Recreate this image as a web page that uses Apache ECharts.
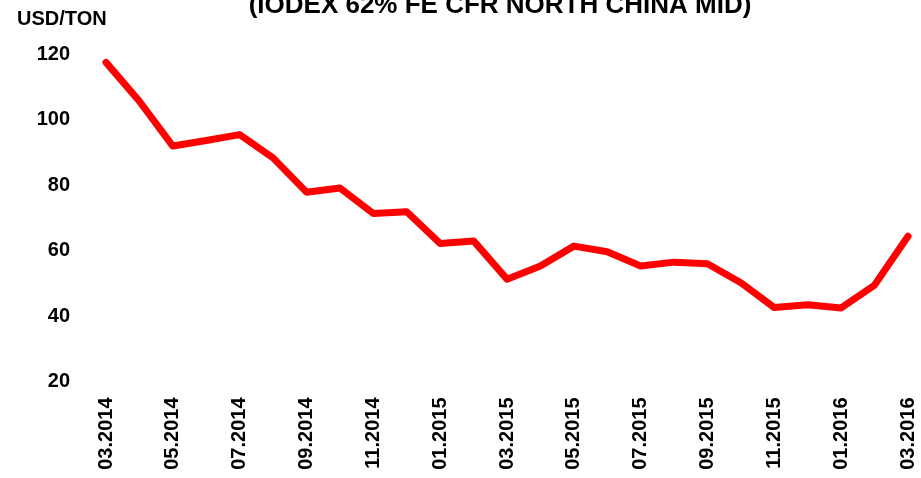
<!DOCTYPE html>
<html>
<head>
<meta charset="utf-8">
<script src="https://cdn.jsdelivr.net/npm/echarts@6/dist/echarts.min.js"></script>
<style>
html,body{margin:0;padding:0;background:#fff;}
#chart{width:921px;height:478px;}
</style>
</head>
<body>
<div id="chart"></div>
<script>
const categories = ["03.2014","04.2014","05.2014","06.2014","07.2014","08.2014","09.2014","10.2014","11.2014","12.2014",
  "01.2015","02.2015","03.2015","04.2015","05.2015","06.2015","07.2015","08.2015","09.2015","10.2015",
  "11.2015","12.2015","01.2016","02.2016","03.2016"];
const prices = [117.6,105.7,92.0,93.7,95.5,88.4,77.9,79.2,71.4,71.9,
  62.2,63.0,51.3,55.3,61.4,59.7,55.3,56.5,56.0,50.2,
  42.6,43.5,42.5,49.5,64.4];
const titleText = "(IODEX 62% FE CFR NORTH CHINA MID)";
const unitText = "USD/TON";

const FONT = "'Liberation Sans', Arial, sans-serif";
const chart = echarts.init(document.getElementById('chart'), null, {renderer:'canvas'});
chart.setOption({
  backgroundColor: '#fff',
  animation: false,
  title: [
    {text: titleText, left: 500, textAlign: 'center', top: -7, padding: 0,
     textStyle: {fontFamily: FONT, fontWeight: 'bold', fontSize: 26, color: '#000'}},
    {text: unitText, left: 17, top: 9, padding: 0,
     textStyle: {fontFamily: FONT, fontWeight: 'bold', fontSize: 20, color: '#000'}}
  ],
  grid: {left: 106, right: 13, top: 54.5, bottom: 96.5, containLabel: false},
  xAxis: {
    type: 'category',
    data: categories,
    boundaryGap: false,
    axisLine: {show: false},
    axisTick: {show: false},
    splitLine: {show: false},
    axisLabel: {rotate: 90, interval: 1, margin: 16, fontFamily: FONT, fontWeight: 'bold', fontSize: 20, color: '#000'}
  },
  yAxis: {
    type: 'value',
    min: 20, max: 120, interval: 20,
    axisLine: {show: false},
    axisTick: {show: false},
    splitLine: {show: false},
    axisLabel: {margin: 36, fontFamily: FONT, fontWeight: 'bold', fontSize: 20, color: '#000'}
  },
  series: [{
    type: 'line',
    data: prices,
    symbol: 'none',
    lineStyle: {color: '#ff0000', width: 7, cap: 'round', join: 'round'}
  }]
});
</script>
</body>
</html>
